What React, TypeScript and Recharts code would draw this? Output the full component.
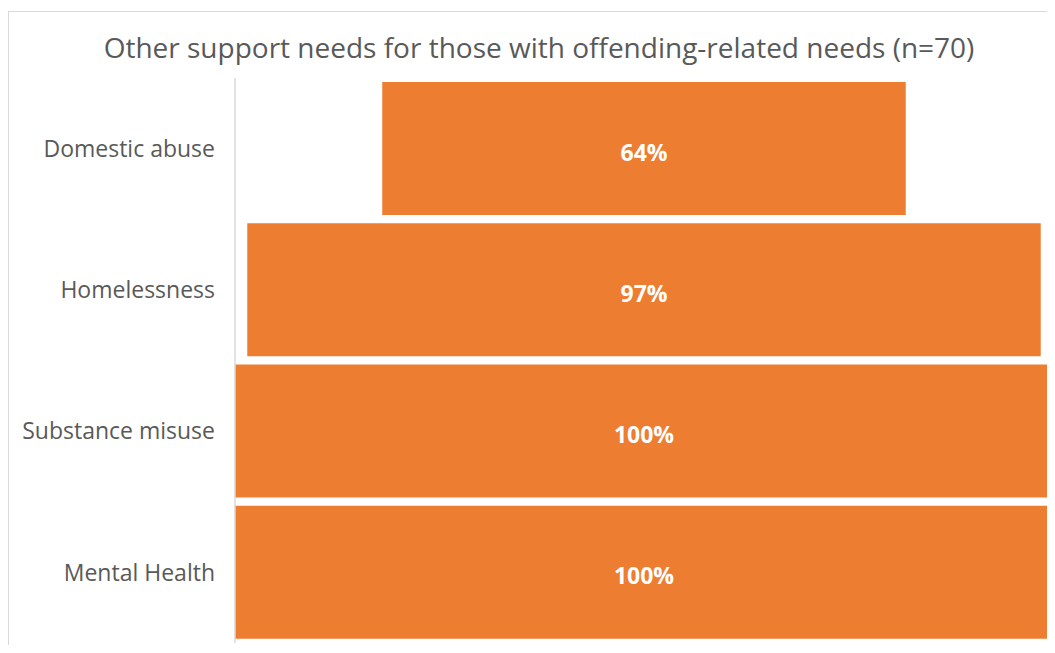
import React from "react";
import { BarChart, Bar, XAxis, YAxis, LabelList } from "recharts";

const categories = ["Domestic abuse", "Homelessness", "Substance misuse", "Mental Health"];
const values = [64, 97, 100, 100];
const title = "Other support needs for those with offending-related needs (n=70)";

const data = categories.map((name, i) => ({
  name,
  value: values[i],
  pad: (100 - values[i]) / 2,
}));

const FONT = "'Open Sans', sans-serif";

const renderValueLabel = (props: any) => {
  const { x, y, width, height, value } = props;
  return (
    <text
      x={Number(x) + Number(width) / 2}
      y={Number(y) + Number(height) / 2 + 3}
      textAnchor="middle"
      dominantBaseline="central"
      fill="#ffffff"
      fontWeight={700}
      fontSize={23}
      fontFamily={FONT}
    >
      {`${value}%`}
    </text>
  );
};

export default function App() {
  return (
    <div
      style={{
        position: "relative",
        marginTop: 3,
        width: 1046,
        height: 633,
        borderTop: "1px solid #d9d9d9",
        borderLeft: "1px solid #d9d9d9",
        fontFamily: FONT,
        overflow: "hidden",
      }}
    >
      <div
        style={{
          position: "absolute",
          left: 0,
          top: 17,
          width: 1060,
          textAlign: "center",
          fontSize: 28,
          color: "#595959",
          lineHeight: "36px",
          whiteSpace: "nowrap",
        }}
      >
        {title}
      </div>
      <div style={{ position: "absolute", left: 0, top: 0 }}>
        <BarChart
          layout="vertical"
          width={1046}
          height={633}
          data={data}
          margin={{ top: 66, right: 2, bottom: 2, left: 0 }}
          barSize={133}
        >
          <XAxis type="number" domain={[0, 100]} hide />
          <YAxis
            type="category"
            dataKey="name"
            width={226}
            tickSize={0}
            tickMargin={20}
            axisLine={{ stroke: "#d9d9d9", strokeWidth: 1.5 }}
            tickLine={false}
            tick={{ fill: "#595959", fontSize: 23, fontFamily: FONT }}
          />
          <Bar dataKey="pad" stackId="a" fill="transparent" isAnimationActive={false} />
          <Bar dataKey="value" stackId="a" fill="#ED7D31" isAnimationActive={false}>
            <LabelList dataKey="value" content={renderValueLabel} />
          </Bar>
        </BarChart>
      </div>
    </div>
  );
}
